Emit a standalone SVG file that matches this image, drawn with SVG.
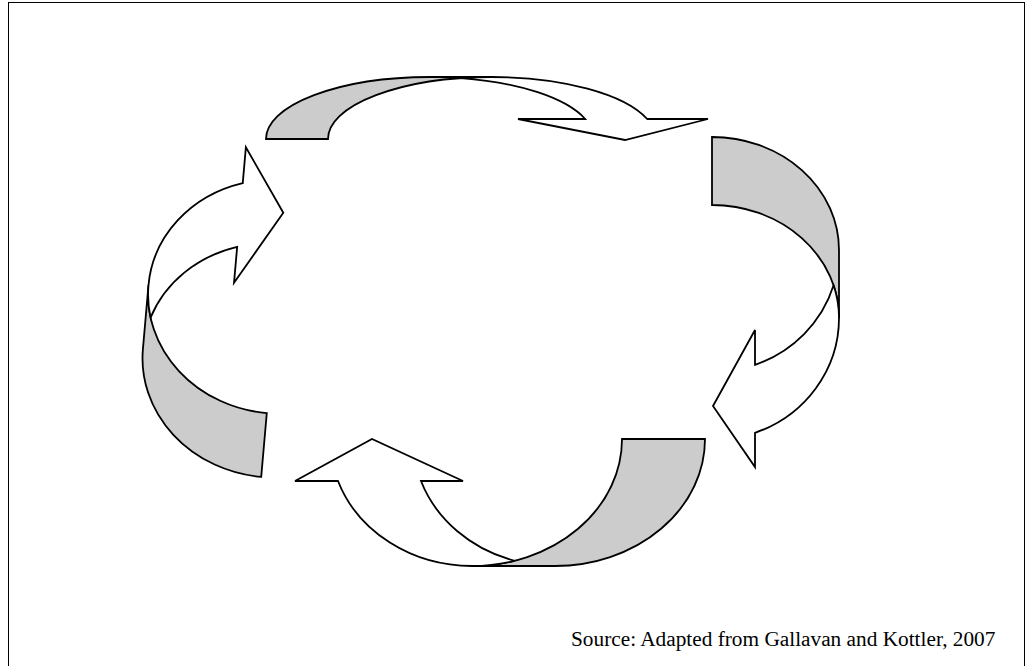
<svg xmlns="http://www.w3.org/2000/svg" width="1030" height="666" viewBox="0 0 1030 666">
<style>
.g{fill:#cccccc;stroke:#000;stroke-width:1.8;stroke-linejoin:miter}
.w{fill:#ffffff;stroke:#000;stroke-width:1.8;stroke-linejoin:miter}
.t{font-family:"Liberation Serif","Times New Roman",serif;font-size:21.3px;fill:#000}
</style>
<rect x="0" y="0" width="1030" height="666" fill="#ffffff"/>
<rect x="8.5" y="2.5" width="1016" height="690" fill="none" stroke="#000" stroke-width="1"/>
<g id="arrow-top">
<path class="g" d="M266,139 A164,62 0 0 1 430,77 L492,77 A164,62 0 0 0 328,139 Z"/>
<path class="w" d="M461,78.1 A164,62 0 0 1 492,77 A164,62 0 0 1 647.2,119 L708,119 L625,140 L518,119 L585.2,119 A164,62 0 0 0 461,78.1 Z"/>
</g>
<g id="arrow-right">
<path class="g" d="M712,137 A127,113 0 0 1 839,250 L839,318 A127,113 0 0 0 712,205 Z"/>
<path class="w" d="M833.6,285.3 A127,113 0 0 1 839,318 A127,122 0 0 1 755,432.8 L755,467 L713,406 L755,330 L755,364.8 A127,122 0 0 0 833.6,285.3 Z"/>
</g>
<g id="arrow-bottom">
<path class="g" d="M622,439 L705,439 A150,127 0 0 1 555,566 L472,566 A150,127 0 0 0 622,439 Z"/>
<path class="w" d="M514.6,560.8 A150,127 0 0 1 472,566 A142,127 0 0 1 338,481 L295,481 L372,439 L463,481 L421,481 A142,127 0 0 0 514.6,560.8 Z"/>
</g>
<g id="arrow-left" transform="rotate(5 264 445)">
<path class="g" d="M264,413 A129,117 0 0 1 135,296 L135,360 A129,117 0 0 0 264,477 Z"/>
<path class="w" d="M139.9,328 A129,117 0 0 1 135,296 A129,117 0 0 1 220,186 L220,150 L263,212 L220,286 L220,250 A129,117 0 0 0 139.9,328 Z"/>
</g>
<g id="connectors"></g>
<text class="t" x="571" y="646">Source: Adapted from Gallavan and Kottler, 2007</text>
</svg>
